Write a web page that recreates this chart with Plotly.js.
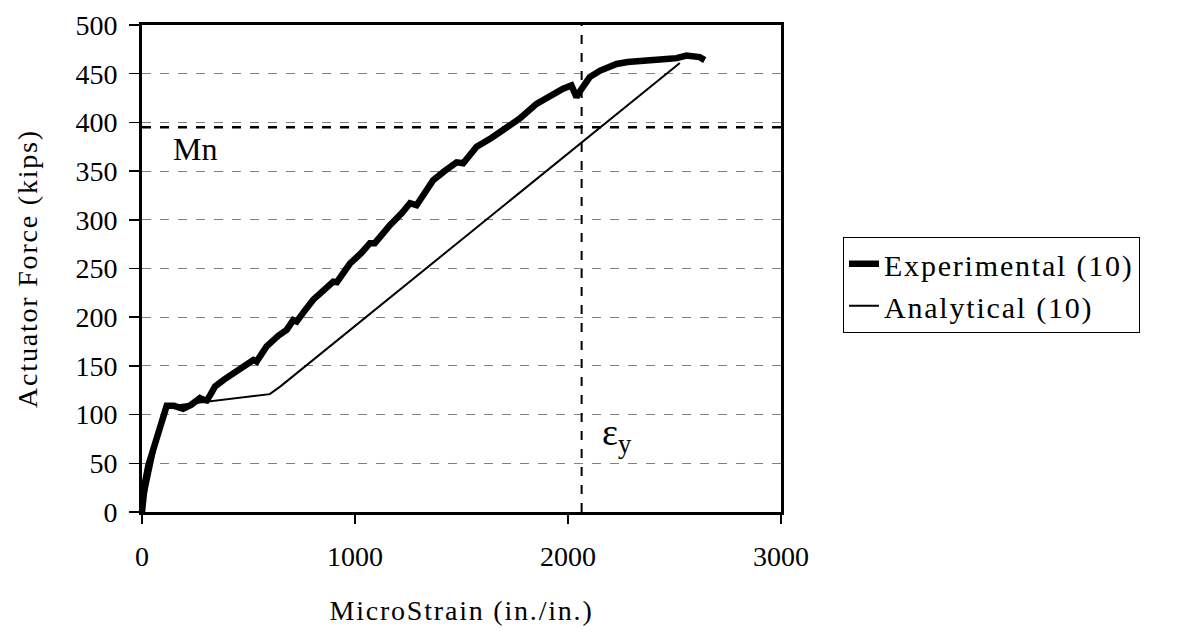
<!DOCTYPE html>
<html>
<head>
<meta charset="utf-8">
<script src="https://cdn.plot.ly/plotly-3.0.1.min.js"></script>
<style>
html,body{margin:0;padding:0;background:#fff;}
#chart{width:1181px;height:634px;}
.xtitle, .ytitle, .legendtext { letter-spacing: 1.8px; }
</style>
</head>
<body>
<div id="chart"></div>
<script>
// Experimental (10)
var expX = [0, 5, 14, 30, 52, 75, 92, 108, 116, 150, 193, 230, 272, 290, 304, 320, 343, 385, 429, 480, 523, 538, 585, 640, 679, 710, 726, 765, 804, 850, 898, 915, 976, 1030, 1070, 1093, 1130, 1164, 1220, 1258, 1289, 1330, 1367, 1420, 1477, 1508, 1571, 1640, 1711, 1774, 1852, 1920, 1977, 2016, 2030, 2040, 2050, 2071, 2102, 2149, 2190, 2228, 2280, 2337, 2400, 2462, 2510, 2556, 2600, 2618, 2642];
var expY = [0, 12, 30, 48, 64, 78, 88, 100, 109, 109, 106, 110, 117, 115, 114.5, 120, 129, 136, 142.6, 150, 156, 154.5, 170, 181, 187, 197, 195.5, 207, 218, 227, 236.5, 236, 255, 266, 276, 276, 286, 294.5, 307, 317, 315, 330, 340.7, 350, 359, 358, 375, 384, 395, 404, 419, 428, 434.6, 438, 432, 426, 430, 436, 446.5, 453, 457, 460, 462, 463.6, 464, 465, 466, 468.7, 468, 467, 464];
// Analytical (10)
var anaX = [0, 105, 600, 650, 2525];
var anaY = [0, 108, 121, 129, 461];
// reference lines
var mnValue = 395;
var eyValue = 2064;
var xTicks = [0, 1000, 2000, 3000];
var yTicks = [0, 50, 100, 150, 200, 250, 300, 350, 400, 450, 500];

var serif = 'Liberation Serif, Times New Roman, serif';

var traces = [
  {x: expX, y: expY, mode: 'lines', name: 'Experimental (10)', line: {color: '#000', width: 6.5}},
  {x: anaX, y: anaY, mode: 'lines', name: 'Analytical (10)', line: {color: '#000', width: 2}}
];

var layout = {
  width: 1181, height: 634,
  margin: {l: 142, r: 400, t: 24.5, b: 121.5},
  paper_bgcolor: '#fff', plot_bgcolor: '#fff',
  font: {family: serif, size: 28, color: '#000'},
  showlegend: true,
  legend: {x: 1.097, y: 0.565, xanchor: 'left', yanchor: 'top', bordercolor: '#000', borderwidth: 1,
           font: {family: serif, size: 30, color: '#000'}, bgcolor: '#fff', tracegroupgap: 0},
  xaxis: {range: [0, 3000], tickvals: xTicks, ticktext: xTicks.map(String), showgrid: false, zeroline: false,
          showline: true, linecolor: '#000', linewidth: 3, mirror: true, ticks: 'outside', ticklen: 9, tickwidth: 1.5, tickcolor: '#000',
          ticklabelstandoff: 8,
          title: {text: 'MicroStrain (in./in.)', font: {family: serif, size: 28}, standoff: 30}},
  yaxis: {range: [0, 500], tickvals: yTicks, ticktext: yTicks.map(String), showgrid: true, gridcolor: '#808080', gridwidth: 1, griddash: 'dash',
          zeroline: false, showline: true, linecolor: '#000', linewidth: 3, mirror: true, ticks: 'outside', ticklen: 10, tickwidth: 1.5, tickcolor: '#000',
          ticklabelstandoff: 6,
          title: {text: 'Actuator Force (kips)', font: {family: serif, size: 28}, standoff: 30}},
  shapes: [
    {type: 'line', xref: 'x', yref: 'y', x0: 0, x1: 3000, y0: mnValue, y1: mnValue, line: {color: '#000', width: 2.5, dash: 'dash'}},
    {type: 'line', xref: 'x', yref: 'y', x0: eyValue, x1: eyValue, y0: 0, y1: 500, line: {color: '#000', width: 2, dash: 'dash'}}
  ],
  annotations: [
    {xref: 'x', yref: 'y', x: 248, y: 373, text: 'Mn', showarrow: false, font: {family: serif, size: 32, color: '#000'}},
    {xref: 'x', yref: 'y', x: 2149, y: 79, xanchor: 'left', text: 'ε<sub>y</sub>', showarrow: false, font: {family: serif, size: 38, color: '#000'}}
  ]
};

Plotly.newPlot('chart', traces, layout, {displayModeBar: false, staticPlot: true});
</script>
</body>
</html>
